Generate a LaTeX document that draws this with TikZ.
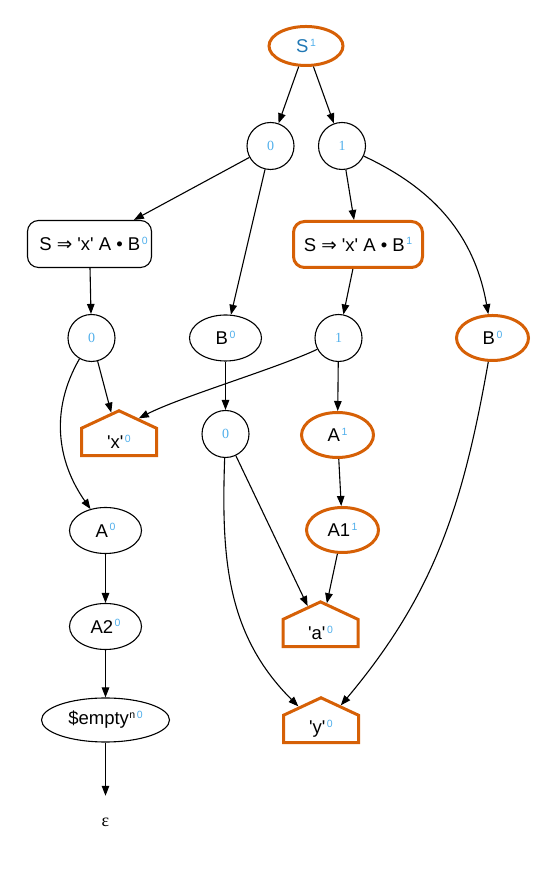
\documentclass[tikz,border=0pt]{standalone}
\usepackage{fontspec}
\setmainfont{Liberation Sans}
\newfontfamily\serifff{Liberation Serif}
\newfontfamily\dvs{DejaVu Sans}
\usetikzlibrary{shapes.geometric,shapes.symbols,arrows.meta}
\definecolor{gorange}{RGB}{214,96,6}
\definecolor{lblue}{RGB}{80,175,235}
\definecolor{sblue}{RGB}{31,119,180}
\newcommand\gsup[1]{\hspace{1.5pt}{\fontsize{10.5}{10}\selectfont\color{lblue}\raisebox{6.5pt}{#1}}}
\newcommand\bsup[1]{\hspace{0.5pt}{\fontsize{10.5}{10}\selectfont\raisebox{6.5pt}{#1}}}
\newcommand\cnum[1]{{\serifff\fontsize{14}{14}\selectfont\color{lblue}#1}}
\newcommand\tq{\textquotesingle}
\begin{document}
\begin{tikzpicture}[x=1pt,y=1pt,
  every node/.style={font=\fontsize{18.5}{20}\selectfont, inner sep=0pt},
  bl/.style={draw=black, line width=1.1pt},
  og/.style={draw=gorange, line width=3pt},
  circ/.style={bl, circle, minimum size=47pt},
  ell/.style={ellipse, minimum width=72pt, minimum height=46pt},
  oell/.style={ell, og, minimum width=72pt, minimum height=45pt},
  bell/.style={ell, bl},
  hnode/.style={og, signal, signal to=north, signal from=nowhere, signal pointer angle=130, minimum width=75pt, minimum height=33pt},
  edge/.style={line width=1.1pt, -{Triangle[length=10pt,width=7.5pt]}}
]
\useasboundingbox (0,0) rectangle (555,869);
% nodes
\node[oell, minimum width=74pt, minimum height=39pt] (S) at (306,823) {{\color{sblue}S}\gsup{1}};
\node[circ] (c0a) at (270.5,723) {\cnum{0}};
\node[circ] (c1a) at (342,723) {\cnum{1}};
\node[bl, rectangle, rounded corners=11pt, minimum width=124pt, minimum height=47pt] (box0) at (89.5,625) {\hspace*{8pt}S {\dvs ⇒} \tq x\tq{} A • B\gsup{0}};
\node[og, rectangle, rounded corners=11pt, minimum width=129pt, minimum height=46pt] (box1) at (358,624.5) {S {\dvs ⇒} \tq x\tq{} A • B\gsup{1}};
\node[circ] (c0b) at (91.5,531) {\cnum{0}};
\node[bell] (Bw) at (225.5,531) {B\gsup{0}};
\node[circ] (c1b) at (338.5,531) {\cnum{1}};
\node[oell] (Bo) at (492.5,531) {B\gsup{0}};
\node[hnode] (hx) at (119,427) {\tq x\tq\gsup{0}};
\node[circ] (c0c) at (225.5,435) {\cnum{0}};
\node[oell] (A1t) at (337.5,434) {A\gsup{1}};
\node[bell] (A0) at (105.5,338.5) {A\gsup{0}};
\node[oell] (A1b) at (342.5,339) {A1\gsup{1}};
\node[hnode] (ha) at (320.5,236) {\tq a\tq\gsup{0}};
\node[bell] (A2) at (105.5,242.5) {A2\gsup{0}};
\node[hnode] (hy) at (321,140) {\tq y\tq\gsup{0}};
\node[bell, minimum width=128pt, minimum height=44pt] (emp) at (105.5,149) {\$empty\bsup{n}\gsup{0}};
\node[minimum height=52pt, minimum width=20pt] (eps) at (105.5,47) {\serifff\fontsize{18}{18}\selectfont ε};
% edges
\draw[edge] (S) -- (c0a);
\draw[edge] (S) -- (c1a);
\draw[edge] (c0a) -- (box0);
\draw[edge] (c0a) -- (Bw);
\draw[edge] (c1a) -- (box1);
\draw[edge] (c1a) to[out=-25, in=100] (Bo);
\draw[edge] (box0) -- (c0b);
\draw[edge] (box1) -- (c1b);
\draw[edge] (c0b) -- (hx);
\draw[edge] (c0b) to[out=-120, in=125] (A0);
\draw[edge] (Bw) -- (c0c);
\draw[edge] (c1b.-152) .. controls (278,501) and (180,472) .. (hx.50);
\draw[edge] (c1b) -- (A1t);
\draw[edge] (c0c) -- (ha);
\draw[edge] (c0c) to[out=-92, in=135] (hy);
\draw[edge] (A1t) -- (A1b);
\draw[edge] (A1b) -- (ha);
\draw[edge] (Bo) to[out=-100, in=50] (hy);
\draw[edge] (A0) -- (A2);
\draw[edge] (A2) -- (emp);
\draw[edge] (emp) -- (eps);
\end{tikzpicture}
\end{document}
